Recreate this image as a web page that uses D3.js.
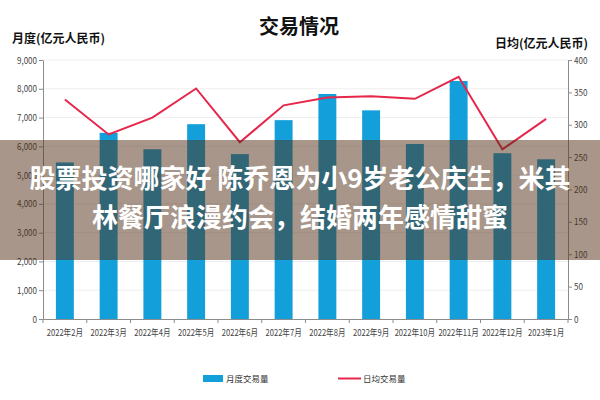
<!DOCTYPE html>
<html>
<head>
<meta charset="utf-8">
<script src="https://cdn.jsdelivr.net/npm/d3@7"></script>
<style>
  body { margin: 0; background: #fff; }
  text { font-family: "Noto Sans CJK SC", "Noto Sans", sans-serif; }
</style>
</head>
<body>
<svg width="600" height="400"></svg>
<script>
// chart data
var months = ['2022年2月', '2022年3月', '2022年4月', '2022年5月', '2022年6月', '2022年7月',
              '2022年8月', '2022年9月', '2022年10月', '2022年11月', '2022年12月', '2023年1月'];
var monthly = [5440, 6470, 5900, 6770, 5730, 6910, 7820, 7250, 6080, 8270, 5760, 5550];
var daily = [339, 285, 311, 356, 273, 330, 342, 344, 340, 374, 262, 309];
var leftTicks = [0, 1000, 2000, 3000, 4000, 5000, 6000, 7000, 8000, 9000];
var rightTicks = [0, 50, 100, 150, 200, 250, 300, 350, 400];
var bannerLines = ['股票投资哪家好 陈乔恩为小9岁老公庆生，米其', '林餐厅浪漫约会，结婚两年感情甜蜜'];

var svg = d3.select('svg'),
    plotL = 43, plotR = 568, plotT = 60, plotB = 319,
    barColor = '#139fda',
    lineColor = '#e6264a',
    axisColor = '#8c8c8c';

var x = d3.scaleBand().domain(months).range([plotL, plotR]).paddingInner(0.59).paddingOuter(0.295),
    xStep = d3.scaleBand().domain(months).range([plotL, plotR]),
    yL = d3.scaleLinear().domain([0, 9000]).range([plotB, plotT]),
    yR = d3.scaleLinear().domain([0, 400]).range([plotB, plotT]);

// grid
svg.append('g')
   .selectAll('line')
   .data(leftTicks.slice(1))
   .enter().append('line')
     .attr('x1', plotL).attr('x2', plotR)
     .attr('y1', function(d) { return yL(d); })
     .attr('y2', function(d) { return yL(d); })
     .attr('stroke', '#efefef');

// bars
svg.append('g')
   .selectAll('rect')
   .data(monthly)
   .enter().append('rect')
     .attr('x', function(d, i) { return x(months[i]); })
     .attr('width', x.bandwidth())
     .attr('y', function(d) { return yL(d); })
     .attr('height', function(d) { return plotB - yL(d); })
     .attr('fill', barColor);

// line
var line = d3.line()
             .x(function(d, i) { return x(months[i]) + x.bandwidth() / 2; })
             .y(function(d) { return yR(d); });

svg.append('path')
   .datum(daily)
   .attr('d', line)
   .attr('fill', 'none')
   .attr('stroke', lineColor)
   .attr('stroke-width', 2);

// axes
function styleAxis(g) {
  g.select('.domain').attr('stroke', axisColor);
  g.selectAll('.tick line').attr('stroke', axisColor);
  g.selectAll('.tick text').attr('fill', '#444').style('font-size', '9.5px');
}

svg.append('g')
   .attr('transform', 'translate(' + plotL + ',0)')
   .call(d3.axisLeft(yL).tickValues(leftTicks).tickFormat(d3.format(',')).tickSize(4).tickSizeOuter(0))
   .call(styleAxis)
   .selectAll('.tick text')
     .attr('transform', 'scale(0.85,1)');

svg.append('g')
   .attr('transform', 'translate(' + plotR + ',0)')
   .call(d3.axisRight(yR).tickValues(rightTicks).tickSize(4).tickSizeOuter(0))
   .call(styleAxis)
   .selectAll('.tick text')
     .attr('transform', 'scale(0.85,1)');

var xAxis = svg.append('g')
   .attr('transform', 'translate(0,' + plotB + ')')
   .call(d3.axisBottom(xStep).tickSize(0).tickSizeOuter(0))
   .call(styleAxis);

xAxis.selectAll('.tick text')
     .attr('y', 10)
     .attr('dy', '0.71em')
     .attr('transform', 'scale(0.8,1)');

// x tick marks at band boundaries
xAxis.append('g')
     .selectAll('line')
     .data(months.concat(['end']))
     .enter().append('line')
       .attr('x1', function(d, i) { return plotL + i * xStep.step(); })
       .attr('x2', function(d, i) { return plotL + i * xStep.step(); })
       .attr('y1', 0).attr('y2', 4)
       .attr('stroke', axisColor);

// titles
svg.append('text')
   .attr('x', 299).attr('y', 34)
   .attr('text-anchor', 'middle')
   .style('font-size', '20px').style('font-weight', 'bold')
   .attr('fill', '#111')
   .text('交易情况');

svg.append('text')
   .attr('x', 12).attr('y', 43)
   .style('font-size', '12px').style('font-weight', 'bold')
   .attr('fill', '#111')
   .text('月度(亿元人民币)');

svg.append('text')
   .attr('x', 588).attr('y', 48)
   .attr('text-anchor', 'end')
   .style('font-size', '12px').style('font-weight', 'bold')
   .attr('fill', '#111')
   .text('日均(亿元人民币)');

// legend
var legend = svg.append('g').style('font-size', '8.5px').attr('fill', '#333');
legend.append('rect').attr('x', 203).attr('y', 375).attr('width', 20).attr('height', 7).attr('fill', barColor);
legend.append('text').attr('x', 226).attr('y', 382).text('月度交易量');
legend.append('line').attr('x1', 338).attr('x2', 361).attr('y1', 378.5).attr('y2', 378.5)
      .attr('stroke', lineColor).attr('stroke-width', 2);
legend.append('text').attr('x', 363).attr('y', 382).text('日均交易量');

// banner overlay
svg.append('rect')
   .attr('x', 0).attr('y', 140).attr('width', 600).attr('height', 120)
   .attr('fill', 'rgb(80,45,20)').attr('fill-opacity', 0.5);

svg.append('g')
   .selectAll('text')
   .data(bannerLines)
   .enter().append('text')
     .attr('x', 300)
     .attr('y', function(d, i) { return 188 + i * 39; })
     .attr('text-anchor', 'middle')
     .style('font-size', '26px').style('font-weight', 'bold')
     .attr('fill', '#fff')
     .text(function(d) { return d; });
</script>
</body>
</html>
